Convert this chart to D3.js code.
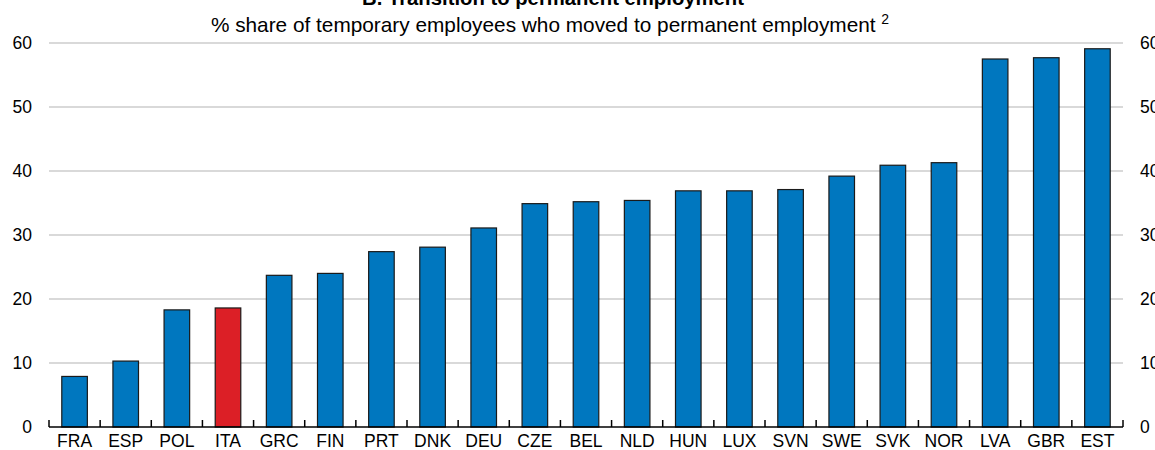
<!DOCTYPE html>
<html><head><meta charset="utf-8">
<script src="https://cdn.jsdelivr.net/npm/d3@7"></script>
<style>body{margin:0;background:#fff}svg{display:block}text{font-family:"Liberation Sans",Arial,sans-serif;fill:#000}</style>
</head><body><svg id="c" width="1155" height="450"></svg>
<script>
const categories = ["FRA","ESP","POL","ITA","GRC","FIN","PRT","DNK","DEU","CZE","BEL","NLD","HUN","LUX","SVN","SWE","SVK","NOR","LVA","GBR","EST"];
const values = [7.9,10.3,18.3,18.6,23.7,24.0,27.4,28.1,31.1,34.9,35.2,35.4,36.9,36.9,37.1,39.2,40.9,41.3,57.5,57.7,59.1];
const highlight = ["ITA"];
const yTicks = [0,10,20,30,40,50,60];
const title = "B. Transition to permanent employment";
const subtitle = "% share of temporary employees who moved to permanent employment";
const footnote = "2";

const svg = d3.select("#c");
const L = 49, R = 1123, T = 43, B = 427;
const x = d3.scaleBand().domain(categories).range([L, R]).paddingInner(0.5).paddingOuter(0.25);
const y = d3.scaleLinear().domain([0, 60]).range([B, T]);

// gridlines
svg.append("g").selectAll("line").data(yTicks.filter(d => d > 0)).join("line")
  .attr("x1", L).attr("x2", R).attr("y1", d => y(d)).attr("y2", d => y(d))
  .attr("stroke", "#d9d9d9").attr("stroke-width", 2);

// bars
svg.append("g").selectAll("rect").data(categories).join("rect")
  .attr("x", d => x(d)).attr("width", x.bandwidth())
  .attr("y", (d, i) => y(values[i])).attr("height", (d, i) => B - y(values[i]))
  .attr("fill", d => highlight.includes(d) ? "#dc1f26" : "#0077bf")
  .attr("stroke", "#1a1a1a").attr("stroke-width", 1.2);

// left axis
const yl = svg.append("g").attr("transform", `translate(${L - 17},0)`)
  .call(d3.axisLeft(y).tickValues(yTicks).tickSize(0).tickPadding(0));
yl.select(".domain").remove();
yl.selectAll("text").attr("font-size", 17.5).attr("font-family", '"Liberation Sans",Arial,sans-serif');

// right axis
const yr = svg.append("g").attr("transform", `translate(${R + 17},0)`)
  .call(d3.axisRight(y).tickValues(yTicks).tickSize(0).tickPadding(0));
yr.select(".domain").remove();
yr.selectAll("text").attr("font-size", 17.5).attr("font-family", '"Liberation Sans",Arial,sans-serif');

// x axis
const xa = svg.append("g").attr("transform", `translate(0,${B})`)
  .call(d3.axisBottom(x).tickSize(0).tickPadding(8));
xa.select(".domain").remove();
xa.selectAll("text").attr("font-size", 17.5).attr("font-family", '"Liberation Sans",Arial,sans-serif');

svg.append("line").attr("x1", L).attr("x2", R).attr("y1", B).attr("y2", B)
  .attr("stroke", "#000").attr("stroke-width", 1.5);
const step = x.step();
const bounds = d3.range(categories.length + 1).map(i => x(categories[0]) - x.paddingOuter() * step + i * step);
svg.append("g").selectAll("line").data(bounds).join("line")
  .attr("x1", d => d).attr("x2", d => d).attr("y1", B).attr("y2", B - 7)
  .attr("stroke", "#000").attr("stroke-width", 1.5);

// titles
svg.append("text").attr("x", 553).attr("y", 5).attr("text-anchor", "middle")
  .attr("font-size", 20.3).attr("font-weight", "bold").text(title);
const st = svg.append("text").attr("x", 550).attr("y", 32).attr("text-anchor", "middle").attr("font-size", 20.8);
st.append("tspan").text(subtitle + " ");
st.append("tspan").attr("font-size", 14).attr("dy", -8).text(footnote);
</script></body></html>
